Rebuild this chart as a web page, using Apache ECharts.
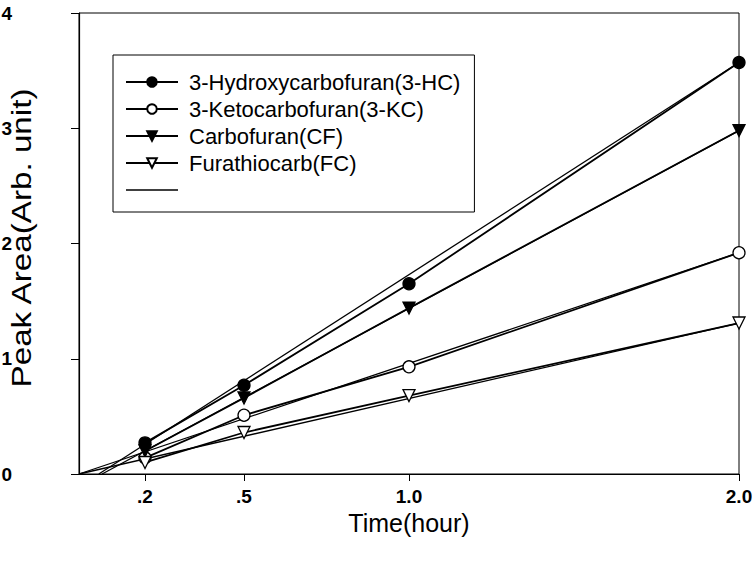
<!DOCTYPE html>
<html>
<head>
<meta charset="utf-8">
<style>
  html, body { margin: 0; padding: 0; background: #fff; }
  #chart { width: 754px; height: 562px; }
</style>
<script src="https://cdn.jsdelivr.net/npm/echarts@6/dist/echarts.min.js"></script>
</head>
<body>
<div id="chart"></div>
<script>
// sampling times (hour)
var times = [0.2, 0.5, 1.0, 2.0];
// peak areas
var hcValues = [0.27, 0.77, 1.65, 3.57];
var kcValues = [0.14, 0.51, 0.93, 1.92];
var cfValues = [0.20, 0.66, 1.44, 2.98];
var fcValues = [0.10, 0.36, 0.68, 1.31];
// fitted lines: x where they leave the axis, value at 2.0 h
var fitStartX = [0.06, 0.0, 0.07, 0.0];
var fitEndY = [3.57, 1.92, 2.98, 1.31];
var fitEndX = 2.0;

var xTickValues = [0.2, 0.5, 1.0, 2.0];
var xTickLabels = ['.2', '.5', '1.0', '2.0'];
var seriesNames = ['3-Hydroxycarbofuran(3-HC)', '3-Ketocarbofuran(3-KC)', 'Carbofuran(CF)', 'Furathiocarb(FC)'];
var fitName = ' ';

var font = '"Liberation Sans", Arial, sans-serif';

(function() {
  var chart = echarts.init(document.getElementById('chart'), null, { renderer: 'svg' });

  function pairs(ys) {
    return times.map(function(t, i) { return [t, ys[i]]; });
  }

  var markers = [
    { symbol: 'circle', fill: '#000' },
    { symbol: 'circle', fill: '#fff' },
    { symbol: 'triangle', fill: '#000', rotate: 180 },
    { symbol: 'triangle', fill: '#fff', rotate: 180 }
  ];
  var allValues = [hcValues, kcValues, cfValues, fcValues];

  var series = [];
  allValues.forEach(function(vals, i) {
    series.push({
      name: seriesNames[i],
      type: 'line',
      data: pairs(vals),
      symbol: markers[i].symbol,
      symbolSize: 12,
      symbolRotate: markers[i].rotate || 0,
      lineStyle: { color: '#000', width: 1.8 },
      itemStyle: { color: markers[i].fill, borderColor: '#000', borderWidth: 1.3 },
      z: 3
    });
  });
  // regression lines, all under one blank legend entry
  allValues.forEach(function(vals, i) {
    series.push({
      name: fitName,
      type: 'line',
      data: [[fitStartX[i], 0], [fitEndX, fitEndY[i]]],
      showSymbol: false,
      lineStyle: { color: '#000', width: 1.3 },
      itemStyle: { color: '#000' },
      silent: true,
      z: 2
    });
  });

  var legendData = seriesNames.slice();
  legendData.push({ name: fitName, icon: 'path://M0,0H52V1.4H0Z', itemStyle: { color: '#000', borderWidth: 0 } });

  chart.setOption({
    animation: false,
    textStyle: { fontFamily: font },
    grid: {
      left: 79, right: 15, top: 13, bottom: 88,
      outerBoundsMode: 'none',
      show: true, borderColor: '#000', borderWidth: 1
    },
    legend: {
      data: legendData,
      orient: 'vertical',
      left: 113,
      top: 55,
      selectedMode: false,
      itemWidth: 52,
      itemHeight: 12,
      itemGap: 5,
      borderColor: '#000',
      borderWidth: 1,
      backgroundColor: '#fff',
      padding: [16, 14, 11, 12],
      textStyle: { fontSize: 22, color: '#000', lineHeight: 22, padding: [0, 0, 0, 6] }
    },
    graphic: [{
      type: 'text',
      x: 22,
      y: 238,
      rotation: Math.PI / 2,
      scaleX: 1.23,
      style: {
        text: 'Peak Area(Arb. unit)',
        fontSize: 27,
        fontFamily: font,
        fill: '#000',
        align: 'center',
        verticalAlign: 'middle'
      }
    }],
    xAxis: {
      type: 'value',
      min: 0,
      max: 2,
      name: 'Time(hour)',
      nameLocation: 'middle',
      nameGap: 33,
      nameTextStyle: { fontSize: 25, color: '#000' },
      axisLine: { lineStyle: { color: '#000', width: 1.2 } },
      axisTick: { show: true, length: 7, customValues: xTickValues, lineStyle: { color: '#000' } },
      axisLabel: {
        customValues: xTickValues,
        margin: 13,
        fontSize: 19,
        fontWeight: 'bold',
        color: '#000',
        formatter: function(v) {
          var i = xTickValues.indexOf(v);
          return i >= 0 ? xTickLabels[i] : '';
        }
      },
      splitLine: { show: false }
    },
    yAxis: {
      type: 'value',
      min: 0,
      max: 4,
      interval: 1,
      axisLine: { show: true, lineStyle: { color: '#000', width: 1.2 } },
      axisTick: { show: true, length: 8, lineStyle: { color: '#000' } },
      axisLabel: { margin: 67, fontSize: 19, fontWeight: 'bold', color: '#000' },
      splitLine: { show: false }
    },
    series: series
  });
  window.addEventListener('resize', function() { chart.resize(); });
})();
</script>
</body>
</html>
